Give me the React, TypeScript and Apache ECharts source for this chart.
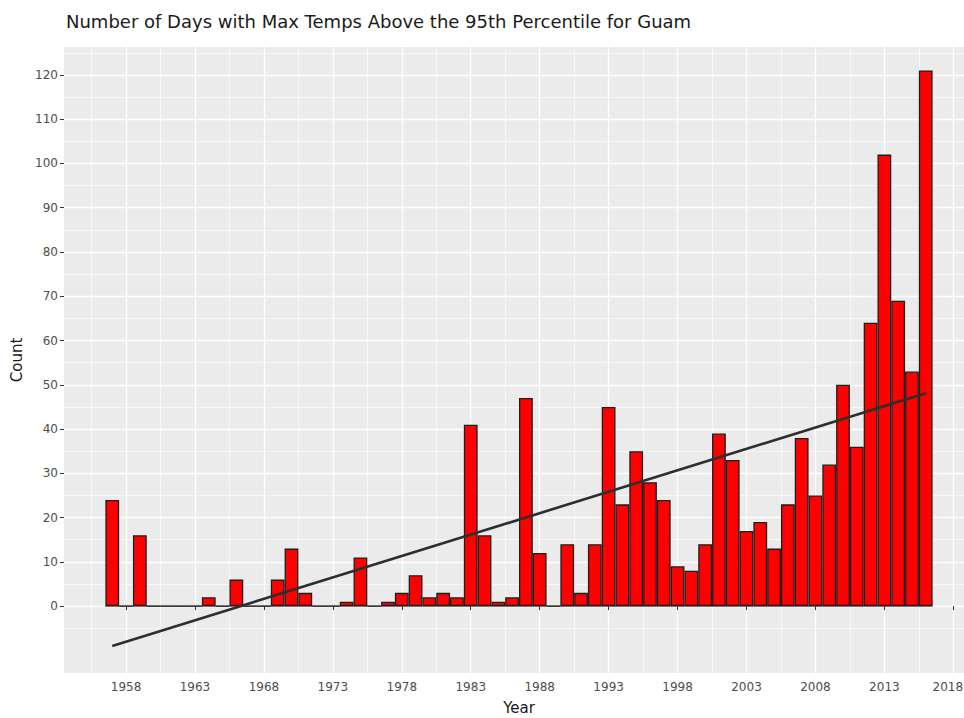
import React, { useEffect, useRef } from 'react';
import * as echarts from 'echarts';

// ---- data ----
const TITLE = 'Number of Days with Max Temps Above the 95th Percentile for Guam';
const X_NAME = 'Year';
const Y_NAME = 'Count';

const FIRST_YEAR = 1957;
// counts per year, 1957 .. 2016
const counts = [
  24, 0, 16, 0, 0, 0, 0, 2, 0, 6,
  0, 0, 6, 13, 3, 0, 0, 1, 11, 0,
  1, 3, 7, 2, 3, 2, 41, 16, 1, 2,
  47, 12, 0, 14, 3, 14, 45, 23, 35, 28,
  24, 9, 8, 14, 39, 33, 17, 19, 13, 23,
  38, 25, 32, 50, 36, 64, 102, 69, 53, 121,
];
const years = counts.map((_, i) => FIRST_YEAR + i);

// linear trend line end points
const trendYears = [1957, 2016];
const trendValues = [-9.0, 48.1];

// axes
const xMajorTicks = [1958, 1963, 1968, 1973, 1978, 1983, 1988, 1993, 1998, 2003, 2008, 2013, 2018];
const xMinorTicks = [1955.5, 1960.5, 1965.5, 1970.5, 1975.5, 1980.5, 1985.5, 1990.5, 1995.5, 2000.5, 2005.5, 2010.5, 2015.5];
const yMajorTicks = [0, 10, 20, 30, 40, 50, 60, 70, 80, 90, 100, 110, 120];
const yMinorTicks = [-5, 5, 15, 25, 35, 45, 55, 65, 75, 85, 95, 105, 115, 125];
const X_MIN = 1953.5;
const X_MAX = 2019.5;
const Y_MIN = -15.1;
const Y_MAX = 126.3;

// ---- layout ----
const W = 964;
const H = 718;
const GRID = { left: 64, right: -10, top: 47, bottom: 45 };
const FONT = 'DejaVu Sans';

export default function App() {
  const ref = useRef<HTMLDivElement>(null);

  useEffect(() => {
    if (!ref.current) return;
    const chart = echarts.init(ref.current, undefined, { renderer: 'svg' });
    const barW = (W - GRID.left - GRID.right) / (X_MAX - X_MIN);
    const lastTick = xMajorTicks[xMajorTicks.length - 1];

    const tickLabel = {
      fontSize: 12,
      color: '#4D4D4D',
      fontFamily: FONT,
    };

    chart.setOption({
      animation: false,
      backgroundColor: '#ffffff',
      textStyle: { fontFamily: FONT },
      title: {
        text: TITLE,
        left: 66,
        top: 12,
        padding: 0,
        textStyle: { fontSize: 18, fontWeight: 'normal', color: '#1a1a1a', fontFamily: FONT },
      },
      grid: {
        ...GRID,
        show: true,
        backgroundColor: '#EBEBEB',
        borderWidth: 0,
        containLabel: false,
        outerBoundsMode: 'none',
      },
      xAxis: [
        {
          type: 'value',
          min: X_MIN,
          max: X_MAX,
          position: 'bottom',
          name: X_NAME,
          nameLocation: 'middle',
          nameGap: 27,
          nameTextStyle: { fontSize: 15, color: '#1a1a1a', fontFamily: FONT },
          axisLine: { show: false },
          axisTick: { show: true, length: 4, lineStyle: { color: '#333333', width: 1 }, customValues: xMajorTicks },
          axisLabel: {
            ...tickLabel,
            customValues: xMajorTicks,
            margin: 8,
            formatter: (v: number) => (v === lastTick ? `{edge|${v}}` : String(v)),
            rich: { edge: { ...tickLabel, padding: [0, 11, 0, 0] } },
          },
          splitLine: { show: true, lineStyle: { color: '#ffffff', width: 1.3 } },
        },
        {
          type: 'value',
          min: X_MIN,
          max: X_MAX,
          position: 'top',
          axisLine: { show: false },
          axisTick: { show: false, customValues: xMinorTicks },
          axisLabel: { show: false, customValues: xMinorTicks },
          splitLine: { show: true, lineStyle: { color: '#ffffff', width: 0.6 } },
        },
      ],
      yAxis: [
        {
          type: 'value',
          min: Y_MIN,
          max: Y_MAX,
          position: 'left',
          name: Y_NAME,
          nameLocation: 'middle',
          nameGap: 33,
          nameTextStyle: { fontSize: 15, color: '#1a1a1a', fontFamily: FONT },
          axisLine: { show: false },
          axisTick: { show: true, length: 4, lineStyle: { color: '#333333', width: 1 }, customValues: yMajorTicks },
          axisLabel: { ...tickLabel, customValues: yMajorTicks, margin: 6, formatter: (v: number) => String(v) },
          splitLine: { show: true, lineStyle: { color: '#ffffff', width: 1.3 } },
        },
        {
          type: 'value',
          min: Y_MIN,
          max: Y_MAX,
          position: 'right',
          axisLine: { show: false },
          axisTick: { show: false, customValues: yMinorTicks },
          axisLabel: { show: false, customValues: yMinorTicks },
          splitLine: { show: true, lineStyle: { color: '#ffffff', width: 0.6 } },
        },
      ],
      series: [
        {
          type: 'line',
          name: 'baseline',
          xAxisIndex: 0,
          yAxisIndex: 0,
          data: [
            [years[0] - 0.5, 0],
            [years[years.length - 1] + 0.5, 0],
          ],
          symbol: 'none',
          silent: true,
          z: 1,
          lineStyle: { color: '#5a5a5a', width: 1 },
        },
        {
          type: 'bar',
          name: 'Count',
          xAxisIndex: 0,
          yAxisIndex: 0,
          data: years.map((y, i) => [y, counts[i]]),
          barWidth: barW,
          z: 2,
          itemStyle: { color: '#FF0000', borderColor: '#1e1e1e', borderWidth: 1.3 },
        },
        {
          type: 'line',
          name: 'trend',
          xAxisIndex: 0,
          yAxisIndex: 0,
          data: trendYears.map((y, i) => [y, trendValues[i]]),
          symbol: 'none',
          silent: true,
          z: 3,
          lineStyle: { color: '#2e2e2e', width: 2.6 },
        },
      ],
    });

    return () => chart.dispose();
  }, []);

  return (
    <div
      ref={ref}
      style={{ position: 'absolute', left: 0, top: 0, width: W, height: H }}
    />
  );
}
